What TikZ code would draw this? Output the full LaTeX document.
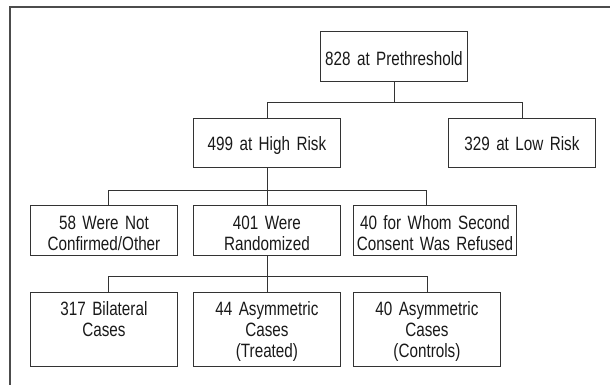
\documentclass[tikz,border=0pt]{standalone}
\usepackage{fontspec}
\setmainfont[FakeStretch=0.79]{Liberation Sans}
\usepackage{xcolor}
\usepackage{tikz}
\usetikzlibrary{shapes,arrows,positioning}
\tikzstyle{block} = [rectangle, draw=black!80, line width=0.9pt, text=black!90,
    text width=147pt, align=center, inner sep=0pt, anchor=north west,
    font=\fontsize{19.3}{20.8}\selectfont]
\tikzstyle{topblock} = [block, text height=34pt, text depth=16pt]
\tikzstyle{riskblock} = [block, text height=32pt, text depth=17pt]
\tikzstyle{twoline} = [block, text height=24pt, text depth=26pt]
\tikzstyle{threeline} = [block, text height=23pt, text depth=51pt]
\tikzstyle{line} = [draw, black!80, line width=0.9pt]
\tikzstyle{frame} = [draw, black!70, line width=1.4pt]

\begin{document}
\begin{tikzpicture}[x=1pt, y=-1pt]
	\useasboundingbox (0,0) rectangle (610,385);
	% Outer frame
	\path [frame] (610,7) -- (10,7) -- (10,385);
	% Place nodes
	\node [topblock] (prethreshold) at (320,31) {828 at Prethreshold};
	\node [riskblock] (highRisk) at (193,118) {499 at High Risk};
	\node [riskblock] (lowRisk) at (448,118) {329 at Low Risk};
	\node [twoline] (notConfirmed) at (30,205) {58 Were Not\\Confirmed/Other};
	\node [twoline] (randomized) at (193,205) {401 Were\\Randomized};
	\node [twoline, text width=163pt] (consentRefused) at (353,205) {40 for Whom Second\\Consent Was Refused};
	\node [threeline] (bilateral) at (30,292) {317 Bilateral\\Cases};
	\node [threeline] (asymTreated) at (193,292) {44 Asymmetric\\Cases\\(Treated)};
	\node [threeline] (asymControls) at (353,292) {40 Asymmetric\\Cases\\(Controls)};
	
	\path [line] (prethreshold.south) -- ++(0,20.5) coordinate (splitRisk);
	\path [line] (highRisk.north) |- (splitRisk) -| (lowRisk.north);
	\path [line] (highRisk.south) -- (randomized.north);
	\coordinate (splitHigh) at ([yshift=-23pt]highRisk.south);
	\path [line] ([xshift=4pt]notConfirmed.north) |- (splitHigh) -| ([xshift=-9pt]consentRefused.north);
	\path [line] (randomized.south) -- (asymTreated.north);
	\coordinate (splitRand) at ([yshift=-21pt]randomized.south);
	\path [line] ([xshift=4pt]bilateral.north) |- (splitRand) -| (asymControls.north);
\end{tikzpicture}
\end{document}
